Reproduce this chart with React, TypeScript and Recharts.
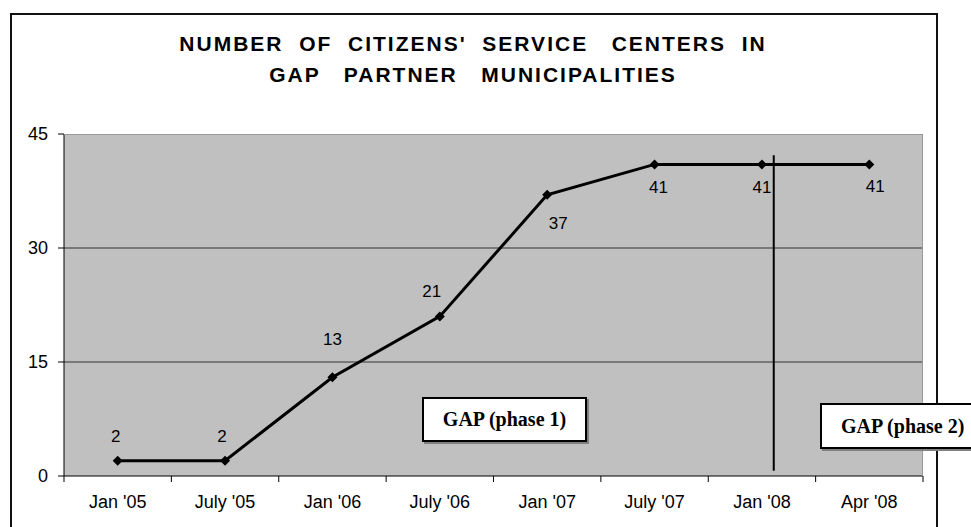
import { LineChart, Line, XAxis, YAxis, CartesianGrid, ReferenceLine, LabelList } from 'recharts';

const categories = ["Jan '05", "July '05", "Jan '06", "July '06", "Jan '07", "July '07", "Jan '08", "Apr '08"];
const centers = [2, 2, 13, 21, 37, 41, 41, 41];
const yTicks = [0, 15, 30, 45];
const titleLines = ["NUMBER  OF  CITIZENS'  SERVICE   CENTERS  IN", "GAP   PARTNER   MUNICIPALITIES"];
const phaseLabels = ['GAP (phase 1)', 'GAP (phase 2)'];
// phase 2 starts a little after Jan '08 (fraction of a category step)
const phaseSplitAfter = "Jan '08";
const phaseSplitShift = 0.11;

// label offsets (dx, dy) for each point's value
const labelOffsets: [number, number][] = [
  [-2, -24], [-3, -24], [0, -38], [-8, -25], [11, 29], [4, 23], [0, 23], [6, 22],
];

const W = 971;
const H = 527;
const PLOT_LEFT = 64;
const PLOT_RIGHT = 923;
const PLOT_TOP = 134;
const AXIS_Y = 476;
const BAND = (PLOT_RIGHT - PLOT_LEFT) / categories.length;

const data = categories.map((month, i) => ({ month, centers: centers[i] }));

const FONT = '"Liberation Sans", Arial, sans-serif';

function XTick(props: any) {
  const { x, payload, index } = props;
  const half = BAND / 2;
  return (
    <g>
      <line x1={x - half} x2={x - half} y1={AXIS_Y} y2={AXIS_Y + 6} stroke="#000" />
      {index === categories.length - 1 && (
        <line x1={x + half} x2={x + half} y1={AXIS_Y} y2={AXIS_Y + 6} stroke="#000" />
      )}
      <text x={x} y={AXIS_Y + 26} textAnchor="middle" dominantBaseline="central" fontSize={18} fontFamily={FONT} fill="#000">
        {payload.value}
      </text>
    </g>
  );
}

function Diamond(props: any) {
  const { cx, cy } = props;
  if (cx == null || cy == null) return null;
  return <polygon points={`${cx},${cy - 5} ${cx + 5},${cy} ${cx},${cy + 5} ${cx - 5},${cy}`} fill="#000" />;
}

function ValueLabel(props: any) {
  const { x, y, value, index } = props;
  const [dx, dy] = labelOffsets[index] || [0, -24];
  return (
    <text x={x + dx} y={y + dy} textAnchor="middle" dominantBaseline="central" fontSize={17} fontFamily={FONT} fill="#000">
      {value}
    </text>
  );
}

function PhaseLine(props: any) {
  const { x1, y1, x2, y2 } = props;
  const dx = BAND * phaseSplitShift;
  return <line x1={x1 + dx} x2={x2 + dx} y1={y1} y2={y2} stroke="#000" strokeWidth={2} />;
}

const boxStyle: React.CSSProperties = {
  position: 'absolute',
  background: '#fff',
  border: '2px solid #000',
  boxShadow: '2px 2px 0 #808080',
  boxSizing: 'border-box',
  display: 'flex',
  alignItems: 'center',
  justifyContent: 'center',
  fontFamily: '"Liberation Serif", "Times New Roman", serif',
  fontWeight: 'bold',
  fontSize: 20,
  color: '#000',
};

export default function App() {
  return (
    <div style={{ position: 'absolute', left: 0, top: 0, width: W, height: H, overflow: 'hidden', background: '#fff' }}>
      <LineChart
        width={W}
        height={H}
        data={data}
        margin={{ top: PLOT_TOP, right: W - PLOT_RIGHT, bottom: 0, left: 4 }}
      >
        <CartesianGrid fill="#C0C0C0" vertical={false} stroke="#333" horizontalValues={[15, 30]} />
        <XAxis
          dataKey="month"
          height={H - AXIS_Y}
          padding={{ left: BAND / 2, right: BAND / 2 }}
          tickLine={false}
          axisLine={{ stroke: '#000' }}
          tick={<XTick />}
          interval={0}
        />
        <YAxis
          domain={[0, 45]}
          ticks={yTicks}
          width={PLOT_LEFT - 4}
          tickSize={6}
          tickMargin={10}
          axisLine={{ stroke: '#000' }}
          tickLine={{ stroke: '#000' }}
          tick={{ fontSize: 18, fontFamily: FONT, fill: '#000' }}
        />
        <ReferenceLine
          segment={[{ x: phaseSplitAfter, y: 42.2 }, { x: phaseSplitAfter, y: 0.7 }]}
          shape={<PhaseLine />}
        />
        <Line
          dataKey="centers"
          stroke="#000"
          strokeWidth={3}
          dot={<Diamond />}
          activeDot={false}
          isAnimationActive={false}
        >
          <LabelList dataKey="centers" content={<ValueLabel />} />
        </Line>
      </LineChart>

      {/* light plot-area edge at top and right */}
      <div
        style={{
          position: 'absolute', left: PLOT_LEFT, top: PLOT_TOP, width: PLOT_RIGHT - PLOT_LEFT,
          height: AXIS_Y - PLOT_TOP, borderTop: '1px solid #999', borderRight: '1px solid #999',
          boxSizing: 'border-box', pointerEvents: 'none',
        }}
      />

      <div
        style={{
          position: 'absolute', left: 10, top: 13, width: 928, height: 600,
          border: '2px solid #111', boxSizing: 'border-box', pointerEvents: 'none',
        }}
      />

      <div
        style={{
          position: 'absolute', left: 10, top: 28, width: 926, textAlign: 'center',
          fontFamily: FONT, fontWeight: 'bold', fontSize: 21, lineHeight: '31px',
          letterSpacing: 2, whiteSpace: 'pre', color: '#000',
        }}
      >
        {titleLines.map((t) => (
          <div key={t}>{t}</div>
        ))}
      </div>

      <div style={{ ...boxStyle, left: 422, top: 397, width: 165, height: 45 }}>{phaseLabels[0]}</div>
      <div style={{ ...boxStyle, left: 820, top: 403, width: 165, height: 46, justifyContent: 'flex-start', paddingLeft: 19 }}>
        {phaseLabels[1]}
      </div>
    </div>
  );
}
